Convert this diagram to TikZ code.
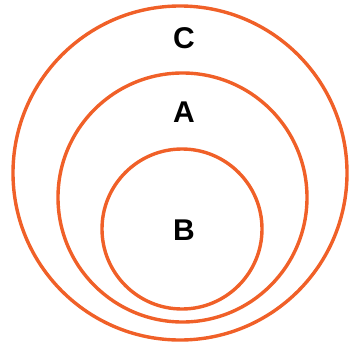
\documentclass[tikz,border=0pt]{standalone}
\usepackage{fontspec}
\setmainfont{Liberation Sans}
\usepackage{xcolor}
\definecolor{ringorange}{RGB}{240,96,40}

\begin{document}
\begin{tikzpicture}[x=1pt,y=-1pt,
  ring/.style={draw=ringorange,line width=3.4pt},
  setlabel/.style={font=\fontsize{30}{30}\selectfont\bfseries}]
\useasboundingbox (0,0) rectangle (348,350);
\draw[ring] (180,173) circle (167);
\draw[ring] (182.5,197.5) circle (124.5);
\draw[ring] (182,229) circle (80);
\node[setlabel] (labC) at (184,38) {C};
\node[setlabel] (labA) at (184,112) {A};
\node[setlabel] (labB) at (184,230) {B};
\end{tikzpicture}
\end{document}
